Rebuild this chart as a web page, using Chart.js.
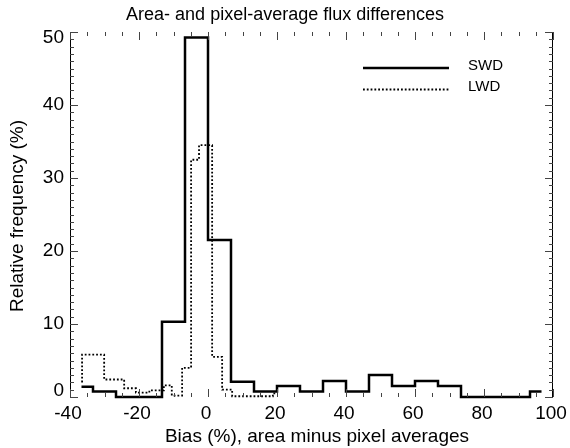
<!DOCTYPE html>
<html>
<head>
<meta charset="utf-8">
<script src="https://cdn.jsdelivr.net/npm/chart.js@4.4.1/dist/chart.umd.min.js"></script>
<style>
  html, body { margin: 0; padding: 0; background: #fff; }
  #chart { display: block; }
</style>
</head>
<body>
<canvas id="chart" width="570" height="448"></canvas>
<script>
// histogram values (percent)
const swdCenters = [-36.67, -30, -23.33, -16.67, -10, -3.33, 3.33, 10, 16.67, 23.33, 30,
  36.67, 43.33, 50, 56.67, 63.33, 70, 76.67, 83.33, 90, 96.67];
const swdValues = [1.4, 0.75, 0, 0, 10.3, 49.25, 21.5, 2.1, 0.75, 1.5, 0.75,
  2.2, 0.75, 3.0, 1.5, 2.2, 1.5, 0, 0, 0, 0.75];

const lwdStartValue = 2.0;
const lwdEdges = [-36.5, -30.1, -24.3, -20.9, -17, -12.8, -10.5, -7.5, -4.9, -2.6, 1.2, 4.1, 7.0, 18.8, 20];
const lwdValues = [5.8, 2.4, 1.2, 0.6, 0.9, 1.6, 0.2, 4.0, 32.5, 34.5, 5.5, 1.0, 0.1, 0.5];

const xTicks = [-40, -20, 0, 20, 40, 60, 80, 100];
const yTicks = [0, 10, 20, 30, 40, 50];
const seriesNames = ["SWD", "LWD"];

const FONT = "'Liberation Sans', Arial, Helvetica, sans-serif";
const DOTS = [1.8, 2];

// IDL psym=10 style: steps half way between bin centres
function centreSteps(centers, values) {
  const pts = [{ x: centers[0], y: values[0] }];
  for (let i = 1; i < centers.length; i++) {
    const mid = (centers[i - 1] + centers[i]) / 2;
    pts.push({ x: mid, y: values[i - 1] });
    pts.push({ x: mid, y: values[i] });
  }
  pts.push({ x: centers[centers.length - 1], y: values[values.length - 1] });
  return pts;
}

function edgeSteps(edges, values, start) {
  const pts = [{ x: edges[0], y: start }];
  for (let i = 0; i < values.length; i++) {
    pts.push({ x: edges[i], y: values[i] });
    pts.push({ x: edges[i + 1], y: values[i] });
  }
  return pts;
}

// axes, ticks, labels and legend drawn IDL-like
const idlFrame = {
  id: "idlFrame",
  afterDraw(chart) {
    const { ctx, chartArea: a, scales } = chart;
    const xs = scales.x, ys = scales.y;
    ctx.save();

    // vertical axis lines only
    ctx.strokeStyle = "#000";
    ctx.lineWidth = 1;
    ctx.beginPath();
    ctx.moveTo(a.left + 0.5, a.top);
    ctx.lineTo(a.left + 0.5, a.bottom);
    ctx.moveTo(a.right - 0.5, a.top);
    ctx.lineTo(a.right - 0.5, a.bottom);
    ctx.stroke();

    ctx.strokeStyle = "#444";
    ctx.beginPath();
    for (let v = 0; v <= 50; v++) {
      const y = Math.round(ys.getPixelForValue(v)) + 0.5;
      const len = v % 10 === 0 ? 8 : 4;
      ctx.moveTo(a.left, y);
      ctx.lineTo(a.left + len, y);
      ctx.moveTo(a.right, y);
      ctx.lineTo(a.right - len, y);
    }
    for (let v = -40; v <= 100; v += 5) {
      const x = Math.round(xs.getPixelForValue(v)) + 0.5;
      const len = v % 20 === 0 ? 8 : 4;
      ctx.moveTo(x, a.bottom);
      ctx.lineTo(x, a.bottom - len);
      ctx.moveTo(x, a.top);
      ctx.lineTo(x, a.top + len);
    }
    ctx.stroke();

    // tick labels
    ctx.fillStyle = "#000";
    ctx.font = "19px " + FONT;
    ctx.textAlign = "right";
    ctx.textBaseline = "middle";
    yTicks.forEach((v) => {
      let y = ys.getPixelForValue(v);
      if (v === 0) y -= 6;
      if (v === 50) y += 6;
      ctx.fillText(String(v), a.left - 6, y);
    });
    ctx.textAlign = "center";
    xTicks.forEach((v) => {
      ctx.fillText(String(v), xs.getPixelForValue(v) - 2, 414);
    });

    // titles
    ctx.font = "18px " + FONT;
    ctx.fillText("Area- and pixel-average flux differences", 285, 15);
    ctx.font = "19px " + FONT;
    ctx.fillText("Bias (%), area minus pixel averages", 317, 437);
    ctx.save();
    ctx.translate(18, 216);
    ctx.rotate(-Math.PI / 2);
    ctx.fillText("Relative frequency (%)", 0, 0);
    ctx.restore();

    // legend
    ctx.strokeStyle = "#000";
    ctx.lineWidth = 2.5;
    ctx.beginPath();
    ctx.moveTo(363, 68);
    ctx.lineTo(449, 68);
    ctx.stroke();
    ctx.lineWidth = 1.8;
    ctx.setLineDash(DOTS);
    ctx.beginPath();
    ctx.moveTo(363, 89.5);
    ctx.lineTo(449, 89.5);
    ctx.stroke();
    ctx.setLineDash([]);
    ctx.font = "15px " + FONT;
    ctx.textAlign = "left";
    ctx.textBaseline = "alphabetic";
    ctx.fillText(seriesNames[0], 468, 70);
    ctx.fillText(seriesNames[1], 468, 91);

    ctx.restore();
  },
};

new Chart(document.getElementById("chart"), {
  type: "scatter",
  data: {
    datasets: [
      {
        label: seriesNames[0],
        data: centreSteps(swdCenters, swdValues),
        showLine: true,
        borderColor: "#000",
        borderWidth: 2.5,
        pointRadius: 0,
        tension: 0,
        clip: false,
      },
      {
        label: seriesNames[1],
        data: edgeSteps(lwdEdges, lwdValues, lwdStartValue),
        showLine: true,
        borderColor: "#000",
        borderWidth: 1.8,
        borderDash: DOTS,
        pointRadius: 0,
        tension: 0,
        clip: false,
      },
    ],
  },
  options: {
    responsive: false,
    animation: false,
    devicePixelRatio: 1,
    layout: { padding: { top: 32, right: 17, left: 0, bottom: 0 } },
    plugins: { legend: { display: false }, tooltip: { enabled: false } },
    scales: {
      x: {
        type: "linear",
        min: -40,
        max: 100,
        ticks: { display: false },
        grid: { display: false },
        border: { display: false },
        afterFit(scale) { scale.height = 51; },
      },
      y: {
        min: 0,
        max: 50,
        ticks: { display: false },
        grid: { display: false },
        border: { display: false },
        afterFit(scale) { scale.width = 70; },
      },
    },
  },
  plugins: [idlFrame],
});
</script>
</body>
</html>
